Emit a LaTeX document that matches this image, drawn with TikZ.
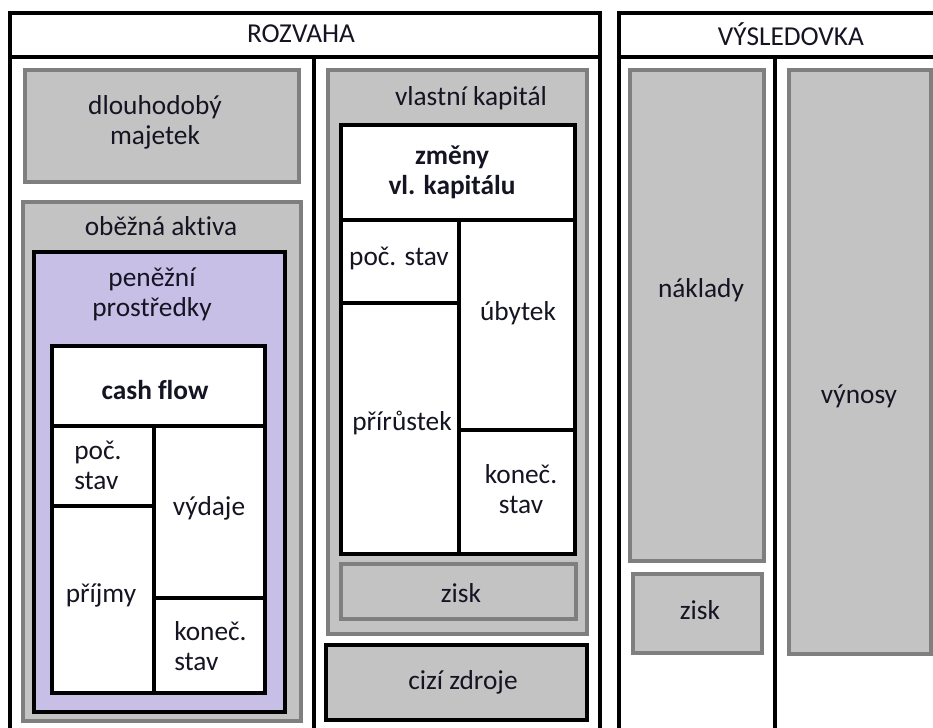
\documentclass[tikz,border=0pt]{standalone}
\usepackage{fontspec}
\setmainfont{Carlito}[Ligatures={NoCommon}]
\definecolor{boxgray}{RGB}{195,195,195}
\definecolor{edgegray}{RGB}{127,127,127}
\definecolor{cashlilac}{RGB}{200,191,231}
\definecolor{inkdark}{RGB}{20,20,35}

\begin{document}
\begin{tikzpicture}[x=0.75pt, y=-0.75pt,
  frame/.style={draw=black, line width=3pt},
  graybox/.style={draw=edgegray, fill=boxgray, line width=3pt},
  blackbox/.style={draw=black, line width=3pt},
  boxtext/.style={font=\fontsize{20.5}{22.5}\selectfont, text=inkdark, align=center, inner sep=0pt},
  boldtext/.style={boxtext, font=\fontsize{20.5}{22.5}\selectfont\bfseries}]

\useasboundingbox (0,0) rectangle (933,728);
\clip (0,0) rectangle (933,728);
\fill[white] (0,0) rectangle (933,728);

% --- Rozvaha frame ---
\draw[frame] (10,745) -- (10,12.5) -- (599.5,12.5) -- (599.5,745);
\draw[frame] (10,56.5) -- (599.5,56.5);
\draw[frame] (314,56.5) -- (314,745);
\node[boxtext] (rozvaha) at (301,34) {ROZVAHA};

% --- Vysledovka frame ---
\draw[frame] (619,745) -- (619,12.5) -- (950,12.5) -- (950,745);
\draw[frame] (619,56.5) -- (950,56.5);
\draw[frame] (775,56.5) -- (775,745);
\node[boxtext] (vysledovka) at (791,34) {VÝSLEDOVKA};

% --- Aktiva ---
\draw[graybox] (24.5,69.5) rectangle (299,182);
\node[boxtext] (dlouhodoby) at (155,122) {dlouhodobý\\majetek};

\draw[graybox] (22.5,201.5) rectangle (300.5,720.5);
\node[boxtext] (obezna) at (161,226) {oběžná aktiva};

\draw[blackbox, fill=cashlilac] (33.5,251.5) rectangle (285,712);
\node[boxtext] (penezni) at (152,294) {peněžní\\prostředky};

% cash flow table
\draw[blackbox, fill=white] (52,345.5) rectangle (265,693);
\draw[blackbox] (52,426) -- (265,426);
\draw[blackbox] (154,426) -- (154,693);
\draw[blackbox] (52,506) -- (154,506);
\draw[blackbox] (154,598) -- (265,598);
\node[boldtext] (cashflow) at (155,390) {cash flow};
\node[boxtext, align=left, anchor=west] (cfpoc) at (74,465) {poč.\\stav};
\node[boxtext] (vydaje) at (209,508) {výdaje};
\node[boxtext] (prijmy) at (101,595) {příjmy};
\node[boxtext, align=left, anchor=west] (cfkonec) at (174,646) {koneč.\\stav};

% --- Pasiva ---
\draw[graybox] (328,70) rectangle (586.5,633.5);
\node[boxtext] (vlastni) at (471,98) {vlastní kapitál};

% zmeny vlastniho kapitalu table
\draw[blackbox, fill=white] (341,125) rectangle (575,553.5);
\draw[blackbox] (341,220) -- (575,220);
\draw[blackbox] (459,220) -- (459,553.5);
\draw[blackbox] (341,303) -- (459,303);
\draw[blackbox] (459,429.5) -- (575,429.5);
\node[boldtext] (zmeny) at (452,172) {změny\\vl. kapitálu};
\node[boxtext] (vkpoc) at (399,258) {poč. stav};
\node[boxtext] (ubytek) at (518,313) {úbytek};
\node[boxtext] (prirustek) at (402,423) {přírůstek};
\node[boxtext] (vkkonec) at (521,489) {koneč.\\stav};

\draw[graybox] (341,563.5) rectangle (575.5,619);
\node[boxtext] (ziskvk) at (461,593) {zisk};

\draw[blackbox, fill=boxgray] (326,645) rectangle (586.5,720);
\node[boxtext] (cizi) at (463,682) {cizí zdroje};

% --- Vysledovka boxes ---
\draw[graybox] (630,70) rectangle (763.5,561);
\node[boxtext] (naklady) at (701,290) {náklady};

\draw[graybox] (632.5,573.5) rectangle (762,652.5);
\node[boxtext] (ziskvy) at (700,610) {zisk};

\draw[graybox] (789,70) rectangle (931,653.5);
\node[boxtext] (vynosy) at (859,396) {výnosy};

\end{tikzpicture}
\end{document}
